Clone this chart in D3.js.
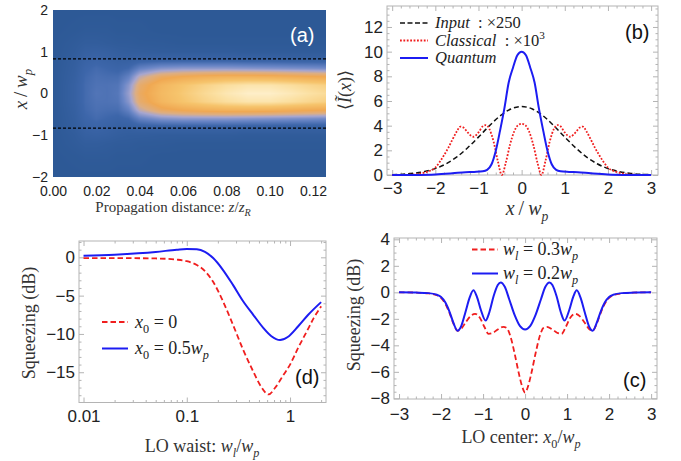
<!DOCTYPE html>
<html><head><meta charset="utf-8">
<script src="https://cdn.jsdelivr.net/npm/d3@7"></script>
<style>body{margin:0;background:#fff}svg{display:block}</style>
</head><body>
<svg id="fig" width="681" height="461"></svg>
<script>
// ---------------- DATA ----------------
// Panel (a): intensity map (normalised), rows = propagation distance z/zR, columns = x/wp
const aZ = [0,0.01,0.015,0.02,0.025,0.03,0.035,0.04,0.05,0.06,0.07,0.08,0.09,0.10,0.11,0.12,0.126];
const aX = [-2,-1.5,-1.2,-1,-0.8,-0.6,-0.4,-0.2,0,0.2,0.4,0.6,0.8,1,1.2,1.5,2];
const aI = [
 [0,0,0,0,0,0,0,0,0,0,0,0,0,0,0,0,0],
 [0,.01,.03,.04,.06,.07,.08,.09,.09,.09,.08,.07,.06,.04,.03,.01,0],
 [0,.02,.05,.08,.11,.14,.16,.17,.17,.17,.16,.14,.11,.08,.05,.02,0],
 [0,.02,.05,.09,.13,.17,.19,.20,.21,.20,.19,.17,.13,.09,.05,.02,0],
 [0,.02,.04,.08,.11,.15,.18,.20,.20,.20,.18,.15,.11,.08,.04,.02,0],
 [0,.01,.03,.06,.09,.13,.18,.21,.22,.21,.18,.13,.09,.06,.03,.01,0],
 [0,.01,.03,.05,.09,.16,.26,.34,.37,.34,.26,.16,.09,.05,.03,.01,0],
 [0,.01,.02,.05,.11,.26,.44,.55,.58,.55,.44,.26,.11,.05,.02,.01,0],
 [0,0,.02,.04,.12,.33,.58,.70,.72,.70,.58,.33,.12,.04,.02,0,0],
 [0,0,.01,.04,.12,.35,.63,.78,.80,.78,.63,.35,.12,.04,.01,0,0],
 [0,0,.01,.04,.12,.35,.66,.84,.87,.84,.66,.35,.12,.04,.01,0,0],
 [0,0,.01,.04,.12,.35,.68,.89,.93,.89,.68,.35,.12,.04,.01,0,0],
 [0,0,.01,.03,.11,.34,.68,.92,.97,.92,.68,.34,.11,.03,.01,0,0],
 [0,0,.01,.03,.11,.33,.67,.92,.97,.92,.67,.33,.11,.03,.01,0,0],
 [0,0,.01,.03,.10,.32,.65,.89,.94,.89,.65,.32,.10,.03,.01,0,0],
 [0,0,.01,.03,.10,.31,.63,.85,.90,.85,.63,.31,.10,.03,.01,0,0],
 [0,0,.01,.03,.10,.30,.62,.83,.88,.83,.62,.30,.10,.03,.01,0,0]
];
const aDashedX = [-0.83, 0.83];
const aXTicks = [0,0.02,0.04,0.06,0.08,0.10,0.12];
const aYTicks = [-2,-1,0,1,2];

// Panel (b)
const bInX = [-3,-2.75,-2.5,-2.25,-2,-1.75,-1.5,-1.25,-1,-0.75,-0.5,-0.25,0,0.25,0.5,0.75,1,1.25,1.5,1.75,2,2.25,2.5,2.75,3];
const bInY = [0.03,0.06,0.14,0.28,0.52,0.91,1.47,2.21,3.07,3.98,4.79,5.35,5.55,5.35,4.79,3.98,3.07,2.21,1.47,0.91,0.52,0.28,0.14,0.06,0.03];
const bClX = [-3,-2.6,-2.4,-2.2,-2.0,-1.9,-1.8,-1.7,-1.6,-1.5,-1.42,-1.35,-1.25,-1.12,-1.0,-0.9,-0.83,-0.75,-0.65,-0.55,-0.46,-0.37,-0.27,-0.17,-0.08,0,
              0.08,0.17,0.27,0.37,0.46,0.55,0.65,0.75,0.83,0.9,1.0,1.12,1.25,1.35,1.42,1.5,1.6,1.7,1.8,1.9,2.0,2.2,2.4,2.6,3];
const bClY = [0,0.02,0.08,0.25,0.6,1.05,1.6,2.2,2.9,3.55,3.92,3.85,3.45,3.1,3.45,3.95,4.05,3.75,2.7,1.1,0,0.95,2.45,3.55,4.05,4.15,
              4.05,3.55,2.45,0.95,0,1.1,2.7,3.75,4.05,3.95,3.45,3.1,3.45,3.85,3.92,3.55,2.9,2.2,1.6,1.05,0.6,0.25,0.08,0.02,0];
const bQuX = [-3,-2.5,-2,-1.6,-1.3,-1.1,-0.9,-0.8,-0.7,-0.6,-0.5,-0.4,-0.3,-0.2,-0.1,0,0.1,0.2,0.3,0.4,0.5,0.6,0.7,0.8,0.9,1.1,1.3,1.6,2,2.5,3];
const bQuY = [0,0.01,0.05,0.14,0.22,0.25,0.3,0.42,0.85,1.95,3.6,5.4,7.5,8.7,9.7,10,9.7,8.7,7.5,5.4,3.6,1.95,0.85,0.42,0.3,0.25,0.22,0.14,0.05,0.01,0];
const bXTicks = [-3,-2,-1,0,1,2,3];
const bYTicks = [0,2,4,6,8,10,12];

// Panel (c)
const cX = [-3,-2.6,-2.3,-2.1,-2.0,-1.9,-1.8,-1.7,-1.61,-1.52,-1.42,-1.32,-1.23,-1.15,-1.05,-0.94,-0.85,-0.75,-0.65,-0.58,-0.48,-0.38,-0.25,-0.12,0,
            0.12,0.25,0.38,0.48,0.58,0.65,0.75,0.85,0.94,1.05,1.15,1.23,1.32,1.42,1.52,1.61,1.7,1.8,1.9,2.0,2.1,2.3,2.6,3];
const cBlue = [0,-0.02,-0.06,-0.18,-0.35,-0.75,-1.45,-2.35,-2.9,-2.55,-1.5,-0.4,0.15,-0.3,-1.35,-2.13,-1.5,-0.3,0.55,0.75,0.4,-0.5,-1.7,-2.55,-2.8,
            -2.55,-1.7,-0.5,0.4,0.75,0.55,-0.3,-1.5,-2.13,-1.35,-0.3,0.15,-0.4,-1.5,-2.55,-2.9,-2.35,-1.45,-0.75,-0.35,-0.18,-0.06,-0.02,0];
const cRedX = [-3,-2.6,-2.3,-2.1,-2.0,-1.9,-1.8,-1.7,-1.61,-1.52,-1.42,-1.3,-1.19,-1.08,-0.97,-0.87,-0.76,-0.65,-0.52,-0.44,-0.35,-0.25,-0.15,-0.07,0,
            0.07,0.15,0.25,0.35,0.44,0.52,0.65,0.76,0.87,0.97,1.08,1.19,1.3,1.42,1.52,1.61,1.7,1.8,1.9,2.0,2.1,2.3,2.6,3];
const cRed = [0,-0.02,-0.08,-0.22,-0.42,-0.85,-1.55,-2.4,-2.9,-2.75,-2.3,-1.8,-1.62,-1.9,-2.6,-3.13,-3.05,-2.8,-2.6,-2.68,-3.3,-4.6,-6.1,-7.1,-7.56,
            -7.1,-6.1,-4.6,-3.3,-2.68,-2.6,-2.8,-3.05,-3.13,-2.6,-1.9,-1.62,-1.8,-2.3,-2.75,-2.9,-2.4,-1.55,-0.85,-0.42,-0.22,-0.08,-0.02,0];
const cXTicks = [-3,-2,-1,0,1,2,3];
const cYTicks = [-8,-6,-4,-2,0,2,4];

// Panel (d)
const dRedX = [0.01,0.02,0.05,0.08,0.1,0.125,0.15,0.18,0.22,0.28,0.35,0.44,0.52,0.62,0.72,0.85,1.0,1.2,1.45,1.7,2.0];
const dRed  = [-0.1,-0.1,-0.15,-0.3,-0.5,-1.0,-1.8,-3.2,-5.5,-8.8,-12.0,-14.9,-16.8,-17.9,-17.0,-15.5,-14.0,-11.8,-9.7,-7.9,-6.4];
const dBlueX = [0.01,0.02,0.05,0.08,0.1,0.125,0.15,0.18,0.22,0.28,0.35,0.44,0.55,0.66,0.8,0.95,1.2,1.5,2.0];
const dBlue  = [0.2,0.35,0.7,1.0,1.1,1.05,0.7,-0.1,-1.5,-3.6,-5.7,-7.5,-9.2,-10.3,-10.8,-10.4,-9.0,-7.5,-5.85];
const dXTicks = [0.01,0.1,1];
const dYTicks = [-15,-10,-5,0];

// ---------------- DRAWING ----------------
const svg = d3.select("#fig");
const FRAME = "#b4b4b4", TICKTXT = "#222", TITLE = "#333";
const SANS = "'Liberation Sans', Arial, sans-serif";
const SERIF = "'Liberation Serif', 'Times New Roman', serif";
const BLUE = "#1c1cf2", RED = "#f01e1e";
const TS = "\u2009";

function rich(t, parts, size) {
  let shift = 0;
  parts.forEach(([s, f = ""]) => {
    const ts = t.append("tspan").text(s);
    if (f.includes("i")) ts.attr("font-style", "italic");
    let target = 0;
    if (f.includes("b")) target = 0.28 * size;
    if (f.includes("p")) target = -0.42 * size;
    if (target !== shift) { ts.attr("dy", target - shift); shift = target; }
    if (f.includes("b") || f.includes("p")) ts.attr("font-size", size * 0.68);
  });
  return t;
}
function label(x, y, parts, size, opts = {}) {
  const t = svg.append("text")
    .attr("font-family", opts.family || SERIF).attr("font-size", size)
    .attr("fill", opts.fill || TITLE).attr("text-anchor", opts.anchor || "middle");
  if (opts.rotate) t.attr("transform", `translate(${x},${y}) rotate(-90)`);
  else t.attr("x", x).attr("y", y);
  return rich(t, parts, size);
}
function styleAxis(g, size) {
  g.select(".domain").remove();
  g.selectAll(".tick line").attr("stroke", FRAME);
  g.selectAll(".tick text").attr("fill", TICKTXT).attr("font-family", SANS).attr("font-size", size);
}
function frame(x, y, o) {
  const [x0, x1] = x.range(), [y0, y1] = y.range();
  const g = svg.append("g");
  const fs = o.fs || 17;
  if (o.ticks !== false) {
    const mk = (axis, tr, vals, size, fmt, pad) => {
      const a = g.append("g").attr("transform", tr)
        .call(axis.tickValues(vals).tickSize(size).tickPadding(pad).tickFormat(fmt));
      styleAxis(a, fs);
    };
    const none = () => "";
    mk(d3.axisBottom(x), `translate(0,${y0})`, o.xt, -5, o.xf, o.xpad);
    mk(d3.axisLeft(y), `translate(${x0},0)`, o.yt, -5, o.yf, o.ypad);
    mk(d3.axisTop(x), `translate(0,${y1})`, o.xt, -5, none, 0);
    mk(d3.axisRight(y), `translate(${x1},0)`, o.yt, -5, none, 0);
    if (o.xm) {
      mk(d3.axisBottom(x), `translate(0,${y0})`, o.xm, -2.5, none, 0);
      mk(d3.axisTop(x), `translate(0,${y1})`, o.xm, -2.5, none, 0);
    }
    if (o.ym) {
      mk(d3.axisLeft(y), `translate(${x0},0)`, o.ym, -2.5, none, 0);
      mk(d3.axisRight(y), `translate(${x1},0)`, o.ym, -2.5, none, 0);
    }
    g.append("rect").attr("x", x0).attr("y", y1).attr("width", x1 - x0).attr("height", y0 - y1)
      .attr("fill", "none").attr("stroke", FRAME).attr("stroke-width", 1);
  } else {
    const b = g.append("g").attr("transform", `translate(0,${y0})`)
      .call(d3.axisBottom(x).tickValues(o.xt).tickSize(0).tickPadding(o.xpad).tickFormat(o.xf));
    styleAxis(b, fs); b.selectAll(".tick line").remove();
    const l = g.append("g").attr("transform", `translate(${x0},0)`)
      .call(d3.axisLeft(y).tickValues(o.yt).tickSize(0).tickPadding(o.ypad).tickFormat(o.yf));
    styleAxis(l, fs); l.selectAll(".tick line").remove();
  }
}
function curve(x, y, xs, ys, color, width, dash, cv) {
  const line = d3.line().x((d, i) => x(xs[i])).y(d => y(d)).curve(cv || d3.curveMonotoneX);
  svg.append("path").attr("d", line(ys)).attr("fill", "none").attr("stroke", color)
    .attr("stroke-width", width).attr("stroke-dasharray", dash || null)
    .attr("stroke-linejoin", "round");
}
function legendLine(x1, x2, y, color, width, dash) {
  svg.append("line").attr("x1", x1).attr("x2", x2).attr("y1", y).attr("y2", y)
    .attr("stroke", color).attr("stroke-width", width).attr("stroke-dasharray", dash || null);
}

// ----- Panel (a)
{
  const x = d3.scaleLinear().domain([0, 0.126]).range([53, 326]);
  const y = d3.scaleLinear().domain([-2, 2]).range([177, 10]);
  const color = d3.scaleLinear()
    .domain([0, 0.15, 0.28, 0.4, 0.5, 0.62, 0.78, 0.9, 1])
    .range(["#2d5996", "#3d66aa", "#6a86c6", "#a7a6cf", "#dcae84", "#f0a852", "#f6c46c", "#fbe0a2", "#fff4d8"])
    .interpolate(d3.interpolateRgb).clamp(true);
  const W = 273, H = 167;
  const cv = document.createElement("canvas"); cv.width = W; cv.height = H;
  const ctx = cv.getContext("2d"); const img = ctx.createImageData(W, H);
  const bil = (z, xv) => {
    let iz = Math.max(0, Math.min(aZ.length - 2, d3.bisectRight(aZ, z) - 1));
    let ix = Math.max(0, Math.min(aX.length - 2, d3.bisectRight(aX, xv) - 1));
    const tz = Math.max(0, Math.min(1, (z - aZ[iz]) / (aZ[iz + 1] - aZ[iz])));
    const tx = Math.max(0, Math.min(1, (xv - aX[ix]) / (aX[ix + 1] - aX[ix])));
    const a = aI[iz][ix], b = aI[iz][ix + 1], c = aI[iz + 1][ix], d = aI[iz + 1][ix + 1];
    return (a * (1 - tx) + b * tx) * (1 - tz) + (c * (1 - tx) + d * tx) * tz;
  };
  for (let j = 0; j < H; j++) {
    const xv = y.invert(10 + j + 0.5);
    for (let i = 0; i < W; i++) {
      const zv = x.invert(53 + i + 0.5);
      const c = d3.rgb(color(bil(zv, xv)));
      const k = (j * W + i) * 4;
      img.data[k] = c.r; img.data[k + 1] = c.g; img.data[k + 2] = c.b; img.data[k + 3] = 255;
    }
  }
  ctx.putImageData(img, 0, 0);
  svg.append("image").attr("x", 53).attr("y", 10).attr("width", W).attr("height", H)
    .attr("preserveAspectRatio", "none").attr("href", cv.toDataURL());
  aDashedX.forEach(v => {
    svg.append("line").attr("x1", x(0)).attr("x2", x(0.126)).attr("y1", y(v)).attr("y2", y(v))
      .attr("stroke", "#000").attr("stroke-width", 1.3).attr("stroke-dasharray", "3,2");
  });
  frame(x, y, { ticks: false, xt: aXTicks, xf: d3.format(".2f"), xpad: 9, yt: aYTicks, yf: d3.format("d"), ypad: 5, fs: 14 });
  label(173, 212, [["Propagation distance: "], ["z", "i"], ["/"], ["z", "i"], ["R", "ib"]], 15);
  label(27, 89, [["x", "i"], [TS + "/" + TS], ["w", "i"], ["p", "ib"]], 19, { rotate: true });
  svg.append("text").attr("x", 290).attr("y", 42).attr("font-family", SANS).attr("font-size", 20)
    .attr("fill", "#fff").text("(a)");
}

// ----- Panel (b)
{
  const x = d3.scaleLinear().domain([-3.12, 3.16]).range([387, 658]);
  const y = d3.scaleLinear().domain([0, 13.7]).range([175, 6]);
  frame(x, y, { xt: bXTicks, xf: d3.format("d"), xpad: 7, yt: bYTicks, yf: d3.format("d"), ypad: 4,
    xm: d3.range(-3, 3.01, 0.2).filter(v => Math.abs(v - Math.round(v)) > 0.01),
    ym: d3.range(0, 13.6, 0.5).filter(v => v % 2 !== 0) });
  curve(x, y, bInX, bInY, "#111", 1.5, "5,3");
  curve(x, y, bClX, bClY, RED, 1.8, "1.8,1.6");
  curve(x, y, bQuX, bQuY, BLUE, 2);
  legendLine(400, 428, 23, "#111", 1.5, "5,2.5");
  legendLine(400, 428, 40.5, RED, 1.8, "1.8,1.6");
  legendLine(400, 428, 58, BLUE, 2);
  const LF = 16.5;
  label(435, 28, [["Input", "i"], ["\u2002: ×250"]], LF, { anchor: "start", fill: "#222" });
  label(435, 45.5, [["Classical", "i"], ["\u2002: ×10"], ["3", "p"]], LF, { anchor: "start", fill: "#222" });
  label(435, 63, [["Quantum", "i"]], LF, { anchor: "start", fill: "#222" });
  label(527, 215, [["x", "i"], [TS + "/" + TS], ["w", "i"], ["p", "ib"]], 20);
  label(351, 90, [["⟨"], ["Ĩ", "i"], ["("], ["x", "i"], [")"], ["⟩"]], 18, { rotate: true });
  svg.append("text").attr("x", 625).attr("y", 38.5).attr("font-family", SANS).attr("font-size", 20)
    .attr("fill", "#111").text("(b)");
}

// ----- Panel (c)
{
  const x = d3.scaleLinear().domain([-3.12, 3.14]).range([394, 657]);
  const y = d3.scaleLinear().domain([-8.05, 4.1]).range([399, 238]);
  frame(x, y, { xt: cXTicks, xf: d3.format("d"), xpad: 9, yt: cYTicks, yf: d3.format("d"), ypad: 4,
    xm: d3.range(-3, 3.01, 0.2).filter(v => Math.abs(v - Math.round(v)) > 0.01),
    ym: d3.range(-8, 4.01, 0.5).filter(v => Math.abs(v % 2) > 0.01) });
  curve(x, y, cRedX, cRed, RED, 1.8, "5.5,3");
  curve(x, y, cX, cBlue, BLUE, 2);
  legendLine(472, 498, 249.5, RED, 1.8, "5.5,3");
  legendLine(472, 498, 273.5, BLUE, 2);
  label(503, 255, [["w", "i"], ["l", "ib"], [" = 0.3"], ["w", "i"], ["p", "ib"]], 18, { anchor: "start", fill: "#222" });
  label(503, 279, [["w", "i"], ["l", "ib"], [" = 0.2"], ["w", "i"], ["p", "ib"]], 18, { anchor: "start", fill: "#222" });
  label(521, 443, [["LO center: "], ["x", "i"], ["0", "b"], ["/"], ["w", "i"], ["p", "ib"]], 18);
  label(360, 315, [["Squeezing (dB)"]], 18, { rotate: true });
  svg.append("text").attr("x", 623).attr("y", 387).attr("font-family", SANS).attr("font-size", 20)
    .attr("fill", "#111").text("(c)");
}

// ----- Panel (d)
{
  const x = d3.scaleLog().domain([0.00904, 2.23]).range([79, 326]);
  const y = d3.scaleLinear().domain([-18.95, 2.13]).range([402.5, 241]);
  const minors = [0.02,0.03,0.04,0.05,0.06,0.07,0.08,0.09,0.2,0.3,0.4,0.5,0.6,0.7,0.8,0.9,2];
  frame(x, y, { xt: dXTicks, xf: d3.format("~g"), xpad: 7, yt: dYTicks, yf: d3.format("d"), ypad: 4,
    xm: minors, ym: [-18, -17, -16, -14, -13, -12, -11, -9, -8, -7, -6, -4, -3, -2, -1, 1, 2] });
  curve(x, y, dRedX, dRed, RED, 1.8, "5.5,3");
  curve(x, y, dBlueX, dBlue, BLUE, 2);
  legendLine(102, 128, 322, RED, 1.8, "5.5,3");
  legendLine(102, 128, 348.5, BLUE, 2);
  label(135, 327.5, [["x", "i"], ["0", "b"], [" = 0"]], 18, { anchor: "start", fill: "#222" });
  label(135, 354, [["x", "i"], ["0", "b"], [" = 0.5"], ["w", "i"], ["p", "ib"]], 18, { anchor: "start", fill: "#222" });
  label(202, 452, [["LO waist: "], ["w", "i"], ["l", "ib"], ["/"], ["w", "i"], ["p", "ib"]], 18);
  label(35, 323, [["Squeezing (dB)"]], 18, { rotate: true });
  svg.append("text").attr("x", 295).attr("y", 384).attr("font-family", SANS).attr("font-size", 20)
    .attr("fill", "#111").text("(d)");
}
</script>
</body></html>
